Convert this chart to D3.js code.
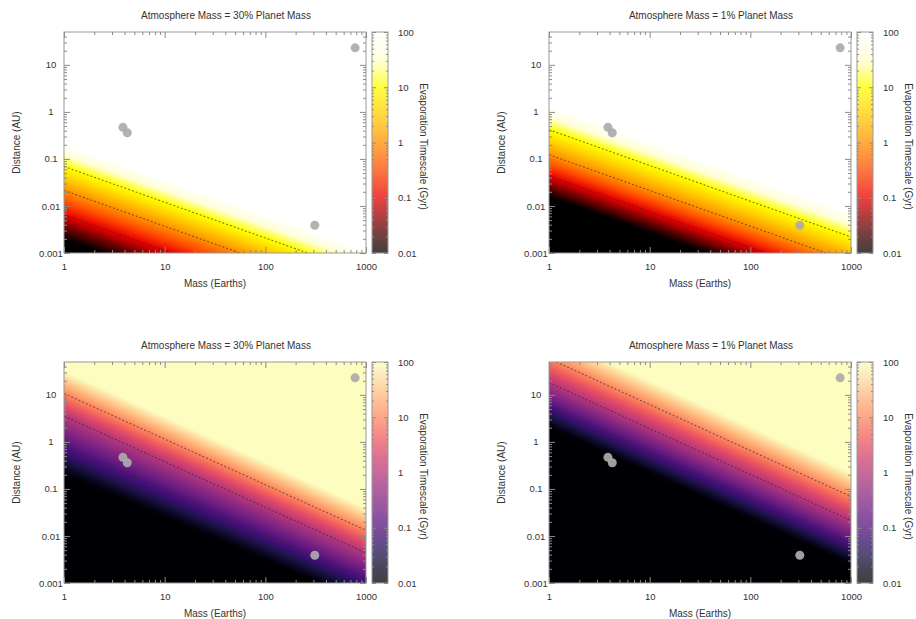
<!DOCTYPE html>
<html>
<head>
<meta charset="utf-8">
<script src="https://cdn.jsdelivr.net/npm/d3@7"></script>
<style>
body { margin: 0; background: #fff; }
svg { font-family: "Liberation Sans", Arial, sans-serif; }
.axis path { display: none; }
.axis line { stroke: #8c8c8c; }
.axis text { fill: #333; font-size: 9.5px; font-family: "Liberation Sans", Arial, sans-serif; }
.lbl { fill: #333; font-size: 10px; }
</style>
</head>
<body>
<svg id="fig" width="916" height="619"></svg>
<script>
// axis ranges and ticks
const massDomain = [1, 1000];
const distDomain = [0.001, 50];
const timeDomain = [0.01, 100];
const massTicks = [1, 10, 100, 1000];
const distTicks = [0.001, 0.01, 0.1, 1, 10];
const timeTicks = [0.01, 0.1, 1, 10, 100];

// known planets (mass in Earths, distance in AU)
const planetMass = [3.85, 4.25, 310, 780];
const planetDist = [0.47, 0.36, 0.0039, 23];

const panelTitles = [
    "Atmosphere Mass = 30% Planet Mass",
    "Atmosphere Mass = 1% Planet Mass",
    "Atmosphere Mass = 30% Planet Mass",
    "Atmosphere Mass = 1% Planet Mass"
];

// evaporation timescale contours (Gyr):
// distance (AU) where each contour crosses M = 1 and M = 1000
const contourLevels = [10, 1, 0.1];
const contourDistAt1 = [
    [0.069, 0.0214, 0.0065],
    [0.417, 0.123, 0.0437],
    [10.7, 3.55, 0.83],
    [58.9, 18.2, 6.03]
];
const contourDistAt1000 = [
    [0.000363, 0.000112, 0.0000339],
    [0.00219, 0.000646, 0.000229],
    [0.0132, 0.00437, 0.00126],
    [0.069, 0.0214, 0.0071]
];

// layout
const panelLeft = [64, 549, 64, 549];
const panelTop = [32, 32, 362, 362];
const plotW = 302, plotH = 221;
const cbOffset = 308, cbW = 16;

const hotColors = ["#000000", "#6e0000", "#e80000", "#ff4a00", "#ff9000", "#ffcc00", "#ffff00", "#ffffd8", "#ffffff"];
const hot = d3.piecewise(d3.interpolateRgb, hotColors);
const colormaps = [hot, hot, d3.interpolateMagma, d3.interpolateMagma];

let svg = d3.select("#fig");
let x = d3.scaleLog().domain(massDomain).range([0, plotW]);
let y = d3.scaleLog().domain(distDomain).range([plotH, 0]);
let cb = d3.scaleLog().domain(timeDomain).range([plotH, 0]);

// 2..9 x 10^n inside a domain
function minorTicks(domain) {
    let out = [];
    for (let e = Math.floor(Math.log10(domain[0])); e <= Math.ceil(Math.log10(domain[1])); e++) {
        for (let k = 2; k <= 9; k++) {
            let v = k * Math.pow(10, e);
            if (v > domain[0] * 1.0001 && v < domain[1] * 0.9999) out.push(v);
        }
    }
    return out;
}

function addAxis(g, axis, tx, ty) {
    return g.append("g").attr("class", "axis")
        .attr("transform", "translate(" + tx + "," + ty + ")")
        .call(axis);
}

panelTitles.forEach(function (title, p) {
    let g = svg.append("g").attr("transform", "translate(" + panelLeft[p] + "," + panelTop[p] + ")");
    let color = d3.scaleSequentialLog(colormaps[p]).domain(timeDomain).clamp(true);

    // heat map: log timescale interpolated between the contour lines at each mass
    let canvas = document.createElement("canvas");
    canvas.width = plotW;
    canvas.height = plotH;
    let ctx = canvas.getContext("2d");
    let img = ctx.createImageData(plotW, plotH);
    for (let i = 0; i < plotW; i++) {
        let f = Math.log10(x.invert(i + 0.5)) / 3;
        let dk = contourLevels.map((lev, k) =>
            Math.log10(contourDistAt1[p][k]) * (1 - f) + Math.log10(contourDistAt1000[p][k]) * f);
        let field = d3.scaleLinear()
            .domain(dk.slice().reverse())
            .range(contourLevels.map(Math.log10).reverse());
        for (let j = 0; j < plotH; j++) {
            let t = Math.pow(10, field(Math.log10(y.invert(j + 0.5))));
            let c = d3.rgb(color(t));
            let o = (j * plotW + i) * 4;
            img.data[o] = c.r; img.data[o + 1] = c.g; img.data[o + 2] = c.b; img.data[o + 3] = 255;
        }
    }
    ctx.putImageData(img, 0, 0);
    g.append("image")
        .attr("href", canvas.toDataURL())
        .attr("width", plotW).attr("height", plotH)
        .attr("preserveAspectRatio", "none");

    // dashed contours
    g.append("clipPath").attr("id", "clip" + p)
        .append("rect").attr("width", plotW).attr("height", plotH);
    g.append("g").attr("clip-path", "url(#clip" + p + ")")
        .selectAll("line").data(contourLevels).join("line")
        .attr("x1", x(massDomain[0])).attr("x2", x(massDomain[1]))
        .attr("y1", (d, k) => y(contourDistAt1[p][k]))
        .attr("y2", (d, k) => y(contourDistAt1000[p][k]))
        .style("stroke", "#2a2a2a").style("stroke-opacity", 0.6)
        .style("stroke-width", 1.1).style("stroke-dasharray", "2,2");

    // planets
    g.selectAll(".planet").data(planetMass).join("circle")
        .attr("class", "planet")
        .attr("cx", d => x(d))
        .attr("cy", (d, i) => y(planetDist[i]))
        .attr("r", 4.5)
        .style("fill", "#ababab").style("fill-opacity", 0.92);

    // frame and ticks
    g.append("rect").attr("width", plotW).attr("height", plotH)
        .style("fill", "none").style("stroke", "#9a9a9a");

    addAxis(g, d3.axisBottom(x).tickValues(massTicks).tickFormat(d3.format("~g"))
        .tickSizeInner(-6).tickSizeOuter(0).tickPadding(10), 0, plotH);
    addAxis(g, d3.axisBottom(x).tickValues(minorTicks(massDomain)).tickFormat("")
        .tickSizeInner(-3).tickSizeOuter(0), 0, plotH);
    addAxis(g, d3.axisTop(x).tickValues(massTicks).tickFormat("")
        .tickSizeInner(-6).tickSizeOuter(0), 0, 0);
    addAxis(g, d3.axisTop(x).tickValues(minorTicks(massDomain)).tickFormat("")
        .tickSizeInner(-3).tickSizeOuter(0), 0, 0);

    let yl = addAxis(g, d3.axisLeft(y).tickValues(distTicks).tickFormat(d3.format("~g"))
        .tickSizeInner(-6).tickSizeOuter(0), 0, 0);
    yl.selectAll("text").attr("text-anchor", "middle").attr("x", -13);
    addAxis(g, d3.axisLeft(y).tickValues(minorTicks(distDomain)).tickFormat("")
        .tickSizeInner(-3).tickSizeOuter(0), 0, 0);
    addAxis(g, d3.axisRight(y).tickValues(distTicks).tickFormat("")
        .tickSizeInner(-6).tickSizeOuter(0), plotW, 0);
    addAxis(g, d3.axisRight(y).tickValues(minorTicks(distDomain)).tickFormat("")
        .tickSizeInner(-3).tickSizeOuter(0), plotW, 0);

    // colour bar
    let gradId = "grad" + p;
    let grad = svg.append("defs").append("linearGradient").attr("id", gradId)
        .attr("x1", 0).attr("y1", 1).attr("x2", 0).attr("y2", 0);
    d3.range(0, 1.0001, 0.05).forEach(function (s) {
        grad.append("stop").attr("offset", s).attr("stop-color", colormaps[p](s));
    });
    let gc = g.append("g").attr("transform", "translate(" + cbOffset + ",0)");
    gc.append("rect").attr("width", cbW).attr("height", plotH)
        .style("fill", "url(#" + gradId + ")").style("opacity", 0.75);
    gc.append("rect").attr("width", cbW).attr("height", plotH)
        .style("fill", "none").style("stroke", "#9a9a9a");
    addAxis(gc, d3.axisRight(cb).tickValues(timeTicks).tickFormat(d3.format("~g"))
        .tickSizeInner(-4).tickSizeOuter(0).tickPadding(10), cbW, 0);
    addAxis(gc, d3.axisRight(cb).tickValues(minorTicks(timeDomain)).tickFormat("")
        .tickSizeInner(-2).tickSizeOuter(0), cbW, 0);
    addAxis(gc, d3.axisLeft(cb).tickValues(timeTicks).tickFormat("")
        .tickSizeInner(-4).tickSizeOuter(0), 0, 0);
    addAxis(gc, d3.axisLeft(cb).tickValues(minorTicks(timeDomain)).tickFormat("")
        .tickSizeInner(-2).tickSizeOuter(0), 0, 0);

    // text labels
    g.append("text").attr("class", "lbl")
        .attr("x", (cbOffset + cbW) / 2).attr("y", -13)
        .attr("text-anchor", "middle").text(title);
    g.append("text").attr("class", "lbl")
        .attr("x", plotW / 2).attr("y", plotH + 34)
        .attr("text-anchor", "middle").text("Mass (Earths)");
    g.append("text").attr("class", "lbl")
        .attr("transform", "translate(-44," + (plotH / 2) + ") rotate(-90)")
        .attr("text-anchor", "middle").text("Distance (AU)");
    g.append("text").attr("class", "lbl")
        .attr("transform", "translate(" + (cbOffset + cbW + 32) + "," + (plotH / 2 + 4) + ") rotate(90)")
        .attr("text-anchor", "middle").text("Evaporation Timescale (Gyr)");
});
</script>
</body>
</html>
